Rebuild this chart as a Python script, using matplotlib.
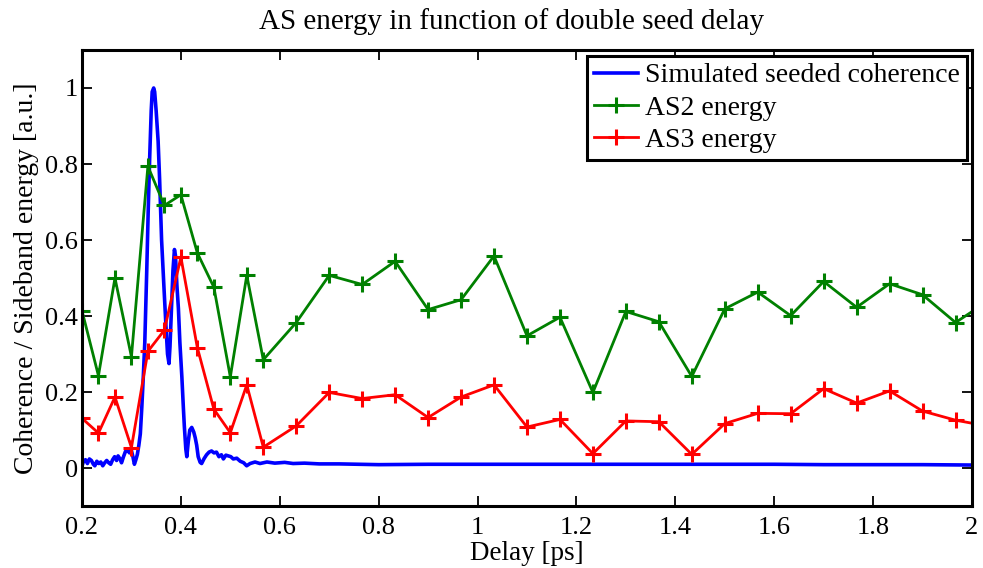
import matplotlib
matplotlib.use("Agg")
import matplotlib.pyplot as plt

plt.rcParams["font.family"] = ["Liberation Serif", "DejaVu Serif"]
plt.rcParams["mathtext.fontset"] = "stix"

# Simulated seeded coherence (normalised)
coh_delay = [
    0.200, 0.203, 0.207, 0.211, 0.215, 0.219, 0.223, 0.226, 0.230, 0.234,
    0.238, 0.242, 0.246, 0.250, 0.254, 0.258, 0.262, 0.266, 0.270, 0.273,
    0.277, 0.280, 0.284, 0.288, 0.292, 0.296, 0.300, 0.303, 0.306, 0.309,
    0.312, 0.315, 0.318, 0.321, 0.324, 0.327, 0.331, 0.334, 0.337, 0.340,
    0.342, 0.345, 0.347, 0.350, 0.354, 0.357, 0.361, 0.366, 0.370, 0.373,
    0.376, 0.378, 0.381, 0.384, 0.387, 0.389, 0.392, 0.395, 0.398, 0.402,
    0.405, 0.407, 0.410, 0.412, 0.415, 0.418, 0.422, 0.426, 0.429, 0.432,
    0.435, 0.439, 0.442, 0.447, 0.452, 0.457, 0.462, 0.467, 0.472, 0.477,
    0.482, 0.486, 0.491, 0.496, 0.501, 0.506, 0.513, 0.520, 0.527, 0.533,
    0.540, 0.550, 0.560, 0.574, 0.590, 0.610, 0.627, 0.650, 0.680, 0.720,
    0.800, 0.900, 1.000, 1.100, 1.200, 1.300, 1.400, 1.500, 1.600, 1.700,
    1.800, 1.900, 2.000,
]
coh_value = [
    0.005, 0.018, 0.022, 0.012, 0.024, 0.020, 0.010, 0.006, 0.018, 0.012,
    0.016, 0.006, 0.014, 0.020, 0.014, 0.010, 0.022, 0.030, 0.020, 0.032,
    0.024, 0.014, 0.030, 0.044, 0.048, 0.040, 0.046, 0.030, 0.010, 0.022,
    0.036, 0.060, 0.090, 0.160, 0.240, 0.330, 0.520, 0.680, 0.820, 0.940,
    0.990, 1.000, 0.990, 0.940, 0.860, 0.760, 0.600, 0.470, 0.370, 0.300,
    0.275, 0.320, 0.420, 0.520, 0.575, 0.560, 0.480, 0.420, 0.330, 0.240,
    0.160, 0.110, 0.050, 0.030, 0.070, 0.100, 0.107, 0.095, 0.080, 0.060,
    0.030, 0.015, 0.012, 0.025, 0.035, 0.042, 0.045, 0.040, 0.042, 0.030,
    0.035, 0.024, 0.034, 0.032, 0.030, 0.024, 0.026, 0.018, 0.014, 0.006,
    0.012, 0.016, 0.012, 0.016, 0.013, 0.015, 0.012, 0.013, 0.011, 0.011,
    0.009, 0.010, 0.010, 0.010, 0.010, 0.010, 0.010, 0.010, 0.010, 0.009,
    0.009, 0.009, 0.008,
]

# Measured sideband energies vs seed delay
delay = [
    0.2000, 0.2333, 0.2667, 0.3000, 0.3333, 0.3667, 0.4000, 0.4333, 0.4667,
    0.5000, 0.5333, 0.5667, 0.6333, 0.7000, 0.7667, 0.8333, 0.9000, 0.9667,
    1.0333, 1.1000, 1.1667, 1.2333, 1.3000, 1.3667, 1.4333, 1.5000, 1.5667,
    1.6333, 1.7000, 1.7667, 1.8333, 1.9000, 1.9667, 2.0333,
]
as2_energy = [
    0.414, 0.243, 0.500, 0.293, 0.794, 0.691, 0.719, 0.566, 0.476,
    0.240, 0.507, 0.285, 0.383, 0.507, 0.483, 0.544, 0.417, 0.443,
    0.558, 0.348, 0.397, 0.199, 0.412, 0.385, 0.241, 0.419, 0.463,
    0.401, 0.491, 0.423, 0.485, 0.456, 0.383, 0.440,
]
as3_energy = [
    0.131, 0.092, 0.187, 0.054, 0.307, 0.363, 0.555, 0.317, 0.155,
    0.093, 0.219, 0.055, 0.111, 0.199, 0.183, 0.193, 0.133, 0.187,
    0.219, 0.108, 0.128, 0.038, 0.124, 0.122, 0.036, 0.117, 0.144,
    0.143, 0.209, 0.171, 0.203, 0.150, 0.126, 0.110,
]

fig = plt.figure(figsize=(9.83, 5.68), dpi=100)
ax = fig.add_axes([0.0834, 0.109, 0.9054, 0.803])

ax.plot(coh_delay, coh_value, color=(0, 0, 1), lw=2.6,
        label="Simulated seeded coherence")
ax.plot(delay, as2_energy, color=(0, 0.5, 0), lw=2.0, marker="+",
        markersize=11, markeredgewidth=2.2, label="AS2 energy")
ax.plot(delay, as3_energy, color=(1, 0, 0), lw=2.0, marker="+",
        markersize=11, markeredgewidth=2.2, label="AS3 energy")

ax.set_xlim(0.2, 2.0)
ax.set_ylim(-0.1, 1.1)
ax.set_xticks([0.2, 0.4, 0.6, 0.8, 1.0, 1.2, 1.4, 1.6, 1.8, 2.0])
ax.set_xticklabels(["0.2", "0.4", "0.6", "0.8", "1", "1.2", "1.4", "1.6", "1.8", "2"])
ax.set_yticks([0, 0.2, 0.4, 0.6, 0.8, 1.0])
ax.set_yticklabels(["0", "0.2", "0.4", "0.6", "0.8", "1"])
ax.tick_params(direction="in", length=7, width=1.3, top=True, right=True,
               labelsize=19)
ax.tick_params(axis="x", pad=8)
ax.tick_params(axis="y", pad=3)
for sp in ax.spines.values():
    sp.set_linewidth(2.2)

ax.set_xlabel("Delay [ps]", fontsize=19.5, labelpad=1)
ax.set_ylabel("Coherence / Sideband energy [a.u.]", fontsize=20, labelpad=4)
ax.set_title("AS energy in function of double seed delay", fontsize=21,
             pad=15, x=0.483)

leg = ax.legend(loc="upper right", bbox_to_anchor=(0.9944, 0.987),
                borderaxespad=0, fontsize=20, numpoints=1, handlelength=1.6,
                handletextpad=0.25, labelspacing=0.25, borderpad=0.25,
                fancybox=False, edgecolor="black", framealpha=1)
leg.get_frame().set_linewidth(2.2)

fig.savefig("out.png", dpi=100)
